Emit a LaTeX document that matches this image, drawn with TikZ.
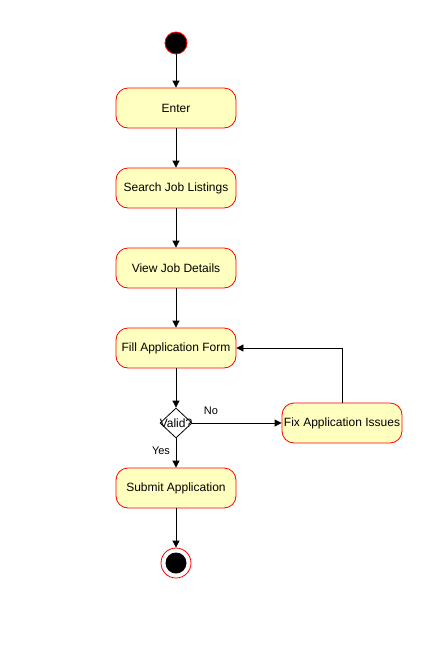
\documentclass[tikz,border=0pt]{standalone}
\usepackage{fontspec}
\setmainfont{Liberation Sans}
\usetikzlibrary{shapes.geometric,arrows.meta}
\definecolor{actfill}{HTML}{FFFFC0}
\definecolor{actline}{HTML}{FF0000}
\begin{document}
\begin{tikzpicture}[x=1pt,y=-1pt,
  act/.style={draw=actline,fill=actfill,rounded corners=12pt,minimum width=120pt,minimum height=40pt,inner sep=0pt,font=\fontsize{12}{14}\selectfont,line width=0.8pt},
  startnode/.style={circle,fill=black,draw=actline,minimum size=22pt,inner sep=0pt,line width=0.8pt},
  decision/.style={diamond,draw=black,fill=white,minimum width=32pt,minimum height=30pt,inner sep=0pt,line width=0.8pt},
  flow/.style={draw=black,line width=0.8pt,-{Triangle[length=7pt,width=7pt]}},
  lbl/.style={font=\fontsize{11}{13}\selectfont}]
\useasboundingbox (0,0) rectangle (424,667);
\node[startnode] (start) at (176,43) {};
\node[act] (enter) at (176,108) {Enter};
\node[act] (search) at (176,188) {Search Job Listings};
\node[act] (view) at (176,268) {View Job Details};
\node[act] (fill) at (176,348) {Fill Application Form};
\node[decision] (valid) at (176,423) {};
\node[font=\fontsize{12}{14}\selectfont] (validtxt) at (176,423) {Valid?};
\node[act] (fix) at (342,423) {Fix Application Issues};
\node[act] (submit) at (176,488) {Submit Application};
\node[circle,draw=actline,fill=white,minimum size=30pt,inner sep=0pt,line width=0.8pt] (endo) at (176,563) {};
\node[circle,fill=black,minimum size=21pt,inner sep=0pt] (endi) at (176,563) {};
\draw[flow] (start) -- (enter);
\draw[flow] (enter) -- (search);
\draw[flow] (search) -- (view);
\draw[flow] (view) -- (fill);
\draw[flow] (fill) -- (valid);
\draw[flow] (valid.east) -- (fix.west);
\draw[flow] (valid.south) -- (submit.north);
\draw[flow] (fix.north) |- (fill.east);
\draw[flow] (submit) -- (endo);
\node[lbl] (no) at (211,411) {No};
\node[lbl] (yes) at (161,451) {Yes};
\end{tikzpicture}
\end{document}
